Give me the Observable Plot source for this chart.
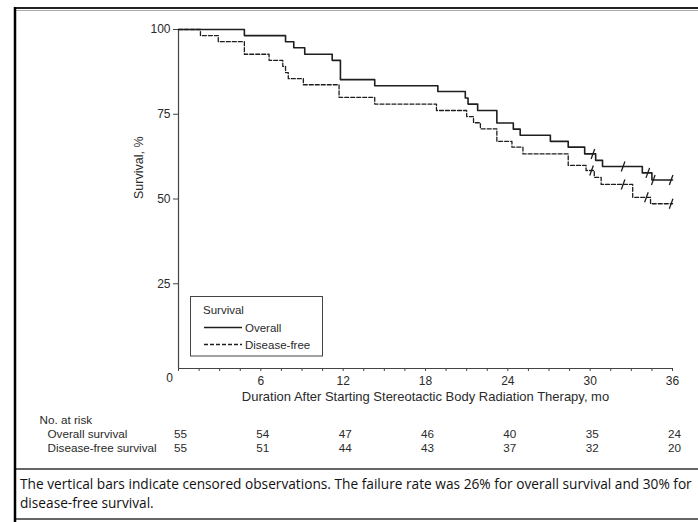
<!DOCTYPE html>
<html>
<head>
<meta charset="utf-8">
<script src="https://cdn.jsdelivr.net/npm/d3@7"></script>
<script src="https://cdn.jsdelivr.net/npm/@observablehq/plot@0.6"></script>
<style>
  html, body { margin: 0; padding: 0; background: #fff; }
  #chart svg { display: block; }
</style>
</head>
<body>
<div id="chart"></div>
<script>
// ---- Data ----
const months = [0, 6, 12, 18, 24, 30, 36];
const riskOverall = [55, 54, 47, 46, 40, 35, 24];
const riskDiseaseFree = [55, 51, 44, 43, 37, 32, 20];

// Overall survival, Kaplan-Meier step points (months, %)
const osTime = [0, 4.8, 7.8, 8.4, 9.2, 11.2, 11.8, 14.3, 18.9, 20.9, 21.1, 21.8, 23.2, 24.4, 24.9, 27.1, 28.4, 29.6, 30.4, 30.9, 33.8, 34.5, 36];
const osSurv = [100, 98.2, 96.4, 94.6, 92.7, 90.9, 85.2, 83.4, 81.7, 79.8, 78.0, 76.1, 72.4, 70.6, 68.8, 67.0, 65.3, 63.3, 61.4, 59.6, 57.7, 55.6, 55.6];
const osCensor = [30.2, 32.4, 34.2, 34.6, 35.9];

// Disease-free survival
const dfsTime = [0, 1.6, 2.9, 4.8, 6.6, 7.6, 7.8, 8.0, 9.1, 11.7, 14.3, 18.8, 21.0, 21.5, 22.0, 23.2, 24.3, 25.1, 28.4, 29.7, 30.3, 30.8, 33.1, 34.4, 36];
const dfsSurv = [100, 98.2, 96.4, 92.7, 90.9, 89.1, 87.3, 85.5, 83.7, 80.0, 78.0, 76.1, 74.3, 72.5, 70.7, 67.0, 65.3, 63.3, 59.9, 58.4, 56.4, 54.3, 50.5, 48.6, 48.6];
const dfsCensor = [30.1, 32.4, 34.1, 35.9];

const yTicks = [25, 50, 75, 100];
const xTickLabels = ["0", "6", "12", "18", "24", "30", "36"];

const seriesNames = ["Overall", "Disease-free"];
const legendTitle = "Survival";
const xTitle = "Duration After Starting Stereotactic Body Radiation Therapy, mo";
const yTitle = "Survival, %";
const riskTitle = "No. at risk";
const riskLabels = ["Overall survival", "Disease-free survival"];
const captionLines = [
  "The vertical bars indicate censored observations. The failure rate was 26% for overall survival and 30% for",
  "disease-free survival."
];

// ---- Build tables ----
const osData = osTime.map((t, i) => ({t, s: osSurv[i]}));
const dfsData = dfsTime.map((t, i) => ({t, s: dfsSurv[i]}));
function stepAt(times, surv, t) {
  let v = surv[0];
  for (let i = 0; i < times.length; i++) if (times[i] <= t) v = surv[i];
  return v;
}
const censorData = [
  ...osCensor.map(t => ({t, s: stepAt(osTime, osSurv, t)})),
  ...dfsCensor.map(t => ({t, s: stepAt(dfsTime, dfsSurv, t)}))
];
const slash = {
  draw(ctx) { ctx.moveTo(-1.8, 5); ctx.lineTo(1.8, -5); }
};
const ink = "#1e1e1e";
const axisInk = "#444";
const txt = "#2a2a2a";

const chart = Plot.plot({
  width: 698,
  height: 522,
  marginLeft: 178,
  marginRight: 26,
  marginTop: 29,
  marginBottom: 154,
  style: {fontFamily: "'Liberation Sans', Arial, sans-serif", fontSize: "12px", color: txt, background: "#fff"},
  x: {domain: [0, 36]},
  y: {domain: [0, 100]},
  marks: [
    Plot.ruleX([0], {stroke: axisInk, strokeWidth: 1.2}),
    Plot.ruleY([0], {stroke: axisInk, strokeWidth: 1.2}),
    Plot.axisY({ticks: yTicks, tickSize: 5, tickPadding: 3, label: null, stroke: axisInk, fill: txt, fontSize: 12}),
    Plot.axisX({ticks: d3.range(0, 36.01, 1.5), tickSize: 3, tickPadding: 5, label: null, stroke: axisInk, fill: txt, fontSize: 12,
      tickFormat: d => (d % 6 === 0 && d > 0) ? xTickLabels[d / 6] : ""}),
    Plot.text([0], {x: d => d, text: d => xTickLabels[0], frameAnchor: "bottom", dy: 13, dx: -9, fill: txt, fontSize: 12}),
    Plot.line(osData, {x: "t", y: "s", curve: "step-after", stroke: ink, strokeWidth: 1.6}),
    Plot.line(dfsData, {x: "t", y: "s", curve: "step-after", stroke: ink, strokeWidth: 1.3, strokeDasharray: "4,2"}),
    Plot.dot(censorData, {x: "t", y: "s", symbol: slash, stroke: ink, strokeWidth: 1.3, fill: "none"}),
    Plot.text([yTitle], {frameAnchor: "left", rotate: -90, dx: -40, fill: txt, fontSize: 12.5}),
    Plot.text([xTitle], {frameAnchor: "bottom", dy: 32, fill: txt, fontSize: 13}),
    Plot.text([riskTitle], {frameAnchor: "bottom-left", dx: -139, dy: 55, textAnchor: "start", fill: txt, fontSize: 11.7}),
    Plot.text([riskLabels[0]], {frameAnchor: "bottom-left", dx: -131, dy: 69, textAnchor: "start", fill: txt, fontSize: 11.7}),
    Plot.text([riskLabels[1]], {frameAnchor: "bottom-left", dx: -131, dy: 83, textAnchor: "start", fill: txt, fontSize: 11.7}),
    Plot.text(months, {x: d => d, text: (d, i) => String(riskOverall[i]), frameAnchor: "bottom", dy: 69, dx: 2, fill: txt, fontSize: 11.7}),
    Plot.text(months, {x: d => d, text: (d, i) => String(riskDiseaseFree[i]), frameAnchor: "bottom", dy: 83, dx: 2, fill: txt, fontSize: 11.7})
  ]
});

// Caption, legend and frame lines drawn on the same SVG
const svg = d3.select(chart);
const capFont = "'Open Sans', 'Noto Sans', sans-serif";
captionLines.forEach((line, i) => {
  svg.append("text")
    .attr("x", 20).attr("y", 489 + i * 19)
    .attr("text-anchor", "start")
    .attr("font-family", capFont).attr("font-size", 13.7).attr("fill", "#111")
    .text(line);
});
// separators and border
svg.append("line").attr("x1", 15).attr("x2", 698).attr("y1", 469).attr("y2", 469).attr("stroke", "#333").attr("stroke-width", 1.5);
svg.append("line").attr("x1", 15).attr("x2", 698).attr("y1", 519).attr("y2", 519).attr("stroke", "#333").attr("stroke-width", 1.5);
svg.append("line").attr("x1", 15).attr("x2", 698).attr("y1", 8).attr("y2", 8).attr("stroke", "#222").attr("stroke-width", 2);
svg.append("line").attr("x1", 16).attr("x2", 698).attr("y1", 10.5).attr("y2", 10.5).attr("stroke", "#aaa").attr("stroke-width", 1);
svg.append("line").attr("x1", 15).attr("x2", 15).attr("y1", 7).attr("y2", 522).attr("stroke", "#000").attr("stroke-width", 2.5);

// legend box
const lg = svg.append("g").attr("font-family", "'Liberation Sans', Arial, sans-serif").attr("font-size", 11.5)
  .attr("fill", txt).attr("text-anchor", "start");
lg.append("rect").attr("x", 190.5).attr("y", 296.5).attr("width", 132).attr("height", 59.5)
  .attr("fill", "#fff").attr("stroke", "#444").attr("stroke-width", 1);
lg.append("text").attr("x", 203).attr("y", 314).text(legendTitle);
[0, 1].forEach(i => {
  const y = 327.5 + i * 17;
  lg.append("line").attr("x1", 204).attr("x2", 242).attr("y1", y).attr("y2", y)
    .attr("stroke", ink).attr("stroke-width", i === 0 ? 1.6 : 1.3)
    .attr("stroke-dasharray", i === 0 ? null : "4,2");
  lg.append("text").attr("x", 245).attr("y", y + 4).text(seriesNames[i]);
});

document.getElementById("chart").appendChild(chart);
</script>
</body>
</html>
